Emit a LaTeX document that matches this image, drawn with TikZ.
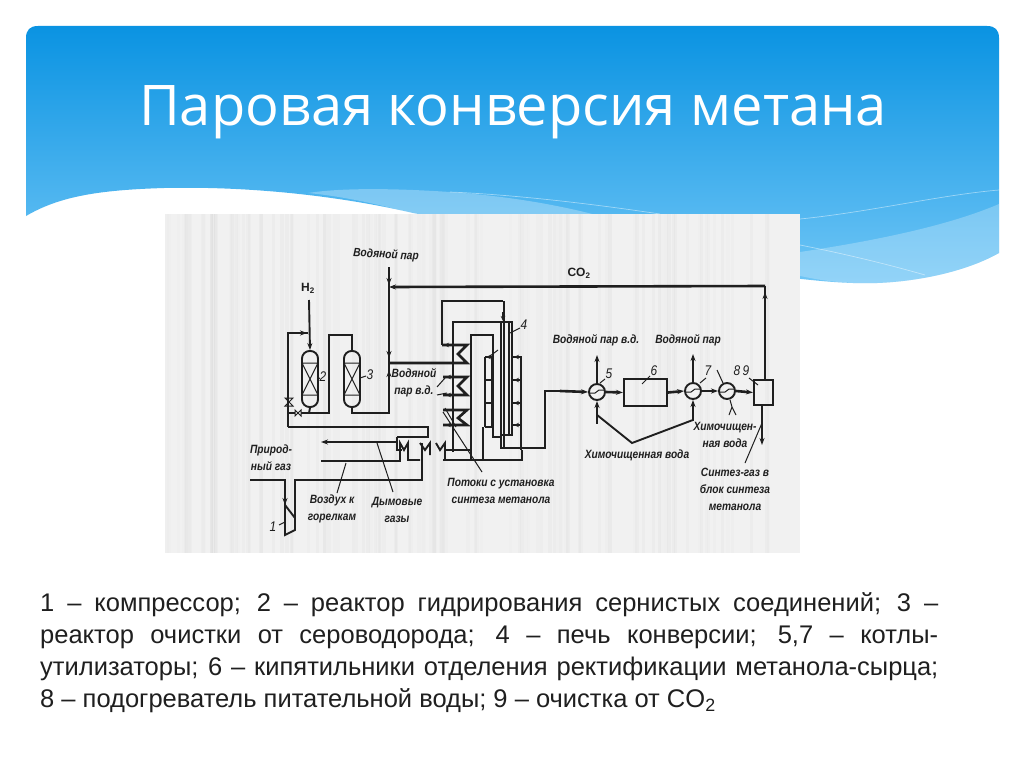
\documentclass[tikz,border=0pt]{standalone}
\usepackage{fontspec}
\setmainfont{Liberation Sans}
\newfontfamily\scan[FakeStretch=0.85]{Liberation Sans}
\newfontfamily\ttl{Open Sans}
\usetikzlibrary{arrows.meta,calc}
\definecolor{ink}{HTML}{1F1F1F}
\definecolor{skytop}{HTML}{0A93E2}
\definecolor{skybot}{HTML}{70C6F6}
\definecolor{scanbg}{HTML}{F1F1F1}
\tikzset{
 pipe/.style={draw=ink,line width=1.9pt},
 fat/.style={draw=ink,line width=2.6pt},
 lead/.style={draw=ink,line width=1pt},
 arr/.style={-{Stealth[length=7pt,width=5pt]}},
 tinyarr/.style={-{Stealth[length=5pt,width=4.5pt]},draw=ink,line width=1.2pt},
 lab/.style={text=ink,font=\scan\itshape\bfseries\fontsize{12}{17}\selectfont,align=center,inner sep=0pt},
 num/.style={text=ink,font=\scan\itshape\fontsize{14}{16}\selectfont,inner sep=0pt},
 hxs/.style={circle,draw=ink,line width=1.9pt,minimum size=16pt,inner sep=0pt},
 vessel/.style={rectangle,rounded corners=7.5pt,draw=ink,line width=1.9pt,minimum width=16pt,minimum height=56pt,inner sep=0pt},
 unit/.style={rectangle,draw=ink,line width=2.2pt,inner sep=0pt}
}
\newcommand\hxsym[3]{\node[hxs] (#1) at (#2,#3) {};
 \draw[lead] ($(#1)+(-8,1)$) -- ($(#1)+(-2,1)$) -- ($(#1)+(2,-2)$) -- ($(#1)+(8,-2)$);}
\newcommand\vesselsym[3]{\node[vessel] (#1) at (#2,#3) {};
 \draw[lead] ($(#1)+(-8,-16)$) -- ($(#1)+(8,-16)$) ($(#1)+(-8,16)$) -- ($(#1)+(8,16)$)
 ($(#1)+(-8,-16)$) -- ($(#1)+(8,16)$) ($(#1)+(8,-16)$) -- ($(#1)+(-8,16)$);}
\begin{document}
\begin{tikzpicture}[x=1pt,y=-1pt]
\useasboundingbox (0,0) rectangle (1024,768);
\fill[white] (0,0) rectangle (1024,768);
% banner
\shade[top color=skytop,bottom color=skybot]
 (26,38) .. controls (26,30) and (30,26) .. (38,26) -- (987,26) .. controls (995,26) and (999,30) .. (999,38)
 -- (999,253) .. controls (960,275) and (900,285) .. (853,283) .. controls (760,280) and (560,240) .. (413,213)
 .. controls (340,196) and (250,186) .. (164,188) .. controls (100,190) and (60,196) .. (26,216) -- cycle;
\fill[white,opacity=.28] (308,193) .. controls (340,188) and (390,188) .. (450,192) .. controls (520,197) and (570,208) .. (600,216) -- (420,216) .. controls (380,204) and (340,196) .. (308,193) -- cycle;
\fill[white,opacity=.25] (800,252) .. controls (880,240) and (950,225) .. (999,204) -- (999,253) .. controls (960,275) and (900,285) .. (853,283) .. controls (830,282) and (815,279) .. (800,276) -- cycle;
\draw[white,opacity=.45,line width=.7pt] (800,219) .. controls (870,212) and (940,195) .. (999,190);
\draw[white,opacity=.45,line width=.7pt] (800,245) .. controls (850,255) and (890,265) .. (925,275);
\draw[white,opacity=.45,line width=.7pt] (450,192) .. controls (520,195) and (600,205) .. (660,214);
\node[text=white,font=\ttl\fontsize{56}{60}\selectfont,inner sep=0pt] (title) at (513,112) {Паровая конверсия метана};
% scan
\fill[scanbg] (165,214) rectangle (800,553);
\pgfmathsetseed{7}
\foreach \i in {0,...,110}{
 \pgfmathsetmacro\xx{165+rnd*610}
 \pgfmathsetmacro\op{.006+rnd*.016}
 \fill[black,opacity=\op] (\xx,214) rectangle (\xx+3.5,553);
}
% named parts
\vesselsym{rtwo}{310}{379}
\vesselsym{rthree}{352}{379}
\hxsym{hxa}{597}{392}
\hxsym{hxb}{693}{391}
\hxsym{hxc}{727}{391}
\node[unit,minimum width=43pt,minimum height=27pt] (boxsix) at (645.5,392.5) {};
\node[unit,minimum width=19pt,minimum height=25pt] (boxnine) at (763.5,392.5) {};
% coordinates
\coordinate (steamtop) at (389,267);
\coordinate (cotop) at (765,286);
\coordinate (cojoin) at (389,287);
\coordinate (htop) at (309,300);
\coordinate (synend) at (762,445);
% labels
\node[lab,rotate=-3] (lsteam) at (386,255) {Водяной пар};
\node[text=ink,font=\bfseries\fontsize{12}{14}\selectfont,inner sep=0pt] (lh) at (308,288) {H\textsubscript{2}};
\node[text=ink,font=\bfseries\fontsize{12}{14}\selectfont,inner sep=0pt] (lco) at (579,273) {CO\textsubscript{2}};
\node[lab] (lhp) at (414,383) {Водяной\\пар в.д.};
\node[lab] (lgas) at (271,458) {Природ-\\ный газ};
\node[lab] (lair) at (332,509) {Воздух к\\горелкам};
\node[lab] (lflue) at (397,510) {Дымовые\\газы};
\node[lab] (lflow) at (501,491) {Потоки с установка\\синтеза метанола};
\node[lab] (lhpb) at (596,340) {Водяной пар в.д.};
\node[lab] (lsteamb) at (688,340) {Водяной пар};
\node[lab] (lwat) at (637,455) {Химочищенная вода};
\node[lab] (lwatb) at (725,435) {Химочищен-\\ная вода};
\node[lab] (lsyn) at (735,489) {Синтез-газ в\\блок синтеза\\метанола};
\node[num] (none) at (273,527) {1};
\node[num] (ntwo) at (323,377) {2};
\node[num] (nthree) at (370,375) {3};
\node[num] (nfour) at (524,325) {4};
\node[num] (nfive) at (609,374) {5};
\node[num] (nsix) at (654,371) {6};
\node[num] (nseven) at (708,371) {7};
\node[num] (neight) at (737,371) {8};
\node[num] (nnine) at (746,371) {9};
% CO2 and steam
\draw[pipe] (boxnine.north -| cotop) -- (cotop);
\draw[fat,arr] (cotop) -- (cojoin);
\draw[pipe,arr] (765,320) -- (765,292);
\draw[pipe] (steamtop) -- (389,413) -- (352,413) -- (rthree.south);
\draw[pipe,arr] (steamtop) -- (389,285);
\draw[pipe,arr] (389,345) -- (389,358);
\draw[pipe,arr] (389,385) -- (389,370);
% hydrogen and reactors
\draw[pipe,arr] (htop) -- (rtwo.north);
\draw[pipe] (288,427) -- (288,333) -- (308,333);
\draw[pipe,arr] (288,333) -- (307,333);
\draw[pipe] (rtwo.south) -- (309,413);
\draw[pipe] (289,413) -- (329,413) -- (329,335) -- (352,335) -- (rthree.north);
\draw[fat] (288,427) -- (428,427) -- (428,438);
\draw[lead] (285,398) -- (293,398) -- (285,406) -- (293,406) -- cycle;
\draw[lead,fill=scanbg] (295,410) -- (295,416) -- (301,410) -- (301,416) -- cycle;
% coils
\draw[pipe] (503,301) -- (442,301) -- (442,345);
\draw[fat] (442,345) -- (467,345) -- (458,354) -- (467,363) -- (389,363);
\draw[fat] (443,377) -- (467,377) -- (458,386) -- (467,395) -- (443,395);
\draw[fat] (443,410) -- (467,410) -- (458,418) -- (467,425) -- (443,425);
\draw[lead] (445,408) -- (456,427);
\draw[tinyarr] (453,345) -- (444,345);
\draw[tinyarr] (453,377) -- (446,377);
\draw[tinyarr] (453,395) -- (446,395);
\draw[tinyarr] (453,425) -- (446,425);
\draw[tinyarr] (503,312) -- (503,321);
% furnace
\draw[pipe] (453,452) -- (453,322) -- (512,322) -- (512,435) -- (501,435);
\draw[pipe] (471,460) -- (471,335) -- (493,335) -- (493,437) -- (501,437);
\draw[pipe] (501,322) -- (501,448);
\draw[pipe] (504,301) -- (504,448);
\draw[pipe] (509,322) -- (509,435);
\draw[pipe] (485,357) -- (492,357) (485,380) -- (492,380) (485,403) -- (492,403) (485,427) -- (492,427);
\draw[pipe] (485,357) -- (485,427) (492,357) -- (492,427);
\draw[pipe] (483,427) -- (483,460);
\draw[pipe] (512,357) -- (521,357) -- (521,450);
\draw[pipe] (512,380) -- (521,380) (512,403) -- (521,403) (512,425) -- (521,425);
\draw[pipe] (443,460) -- (522,460) -- (522,450);
\draw[pipe] (500,448) -- (545,448) -- (545,391) -- (575,391);
\draw[fat,arr] (560,391) -- (hxa.west);
\draw[tinyarr] (521,357) -- (514,357);
\draw[tinyarr] (521,380) -- (514,380);
\draw[tinyarr] (521,403) -- (514,403);
\draw[tinyarr] (521,425) -- (514,425);
\draw[tinyarr] (492,357) -- (486,357);
% bottom exchangers
\draw[pipe] (397,437) -- (397,450) -- (402,450);
\draw[pipe] (397,437) -- (428,437);
\draw[fat,arr] (397,442) -- (321,442);
\draw[pipe] (321,461) -- (400,461) -- (400,443) -- (404,450) -- (408,443) -- (408,460) -- (420,460);
\draw[pipe] (420,443) -- (425,450) -- (430,443) -- (430,455);
\draw[pipe] (436,443) -- (440,450) -- (445,443) -- (445,460) -- (471,460);
\draw[pipe] (445,450) -- (471,450);
% natural gas and compressor
\draw[pipe] (250,480) -- (285,480) -- (285,505);
\draw[pipe,arr] (285,490) -- (285,505);
\draw[pipe] (285,505) -- (295,518) -- (295,530) -- (285,535) -- cycle;
\draw[pipe] (295,518) -- (295,480) -- (422,480) -- (422,443);
% right train
\draw[fat,arr] (hxa.east) -- (boxsix.west);
\draw[fat,arr] (boxsix.east) -- (hxb.west);
\draw[fat,arr] (hxb.east) -- (hxc.west);
\draw[fat,arr] (hxc.east) -- (boxnine.west);
\draw[pipe,arr] (hxa.north) -- ++(0,-28);
\draw[pipe,arr] (hxb.north) -- ++(0,-28);
\draw[pipe,arr] ($(hxa.south)+(0,23)$) -- (hxa.south);
\draw[pipe,arr] ($(hxb.south)+(0,21)$) -- (hxb.south);
\draw[pipe] ($(hxa.south)+(0,14)$) -- (632,443) -- ($(hxb.south)+(0,20)$);
\draw[pipe,arr] (boxnine.south -| synend) -- (synend);
% leaders
\draw[lead] (717,370) -- (723,383);
\draw[lead] (hxc.south) ++(3,0) -- (732,407) -- (729,415) (732,407) -- (736,415);
\draw[lead] (749,378) -- (758,385);
\draw[lead] (642,384) -- (650,376);
\draw[lead] (700,383) -- (706,378);
\draw[lead] (600,383) -- (605,379);
\draw[lead] (745,463) -- (762,423);
\draw[lead] (346,463) -- (337,493);
\draw[lead] (377,443) -- (393,492);
\draw[lead] (443,412) -- (482,472);
\draw[lead] (437,387) -- (445,378) (437,395) -- (447,393);
\draw[lead] (318,379) -- (320,378) (360,378) -- (366,376);
\draw[lead] (279,525) -- (285,522);
\draw[lead] (510,333) -- (520,328);
\draw[lead] (490,356) -- (498,350);
% body text
\node[anchor=north west,text width=898pt,inner sep=0pt,align=justify,text=black!88,font=\fontsize{25.5}{32}\selectfont] (body) at (40,592) {1 – компрессор; 2 – реактор гидрирования сернистых соединений; 3 –\linebreak реактор очистки от сероводорода; 4 – печь конверсии; 5,7 – котлы-\linebreak утилизаторы; 6 – кипятильники отделения ректификации метанола-сырца;\linebreak 8 – подогреватель питательной воды; 9 – очистка от CO\textsubscript{2}};
\end{tikzpicture}
\end{document}
